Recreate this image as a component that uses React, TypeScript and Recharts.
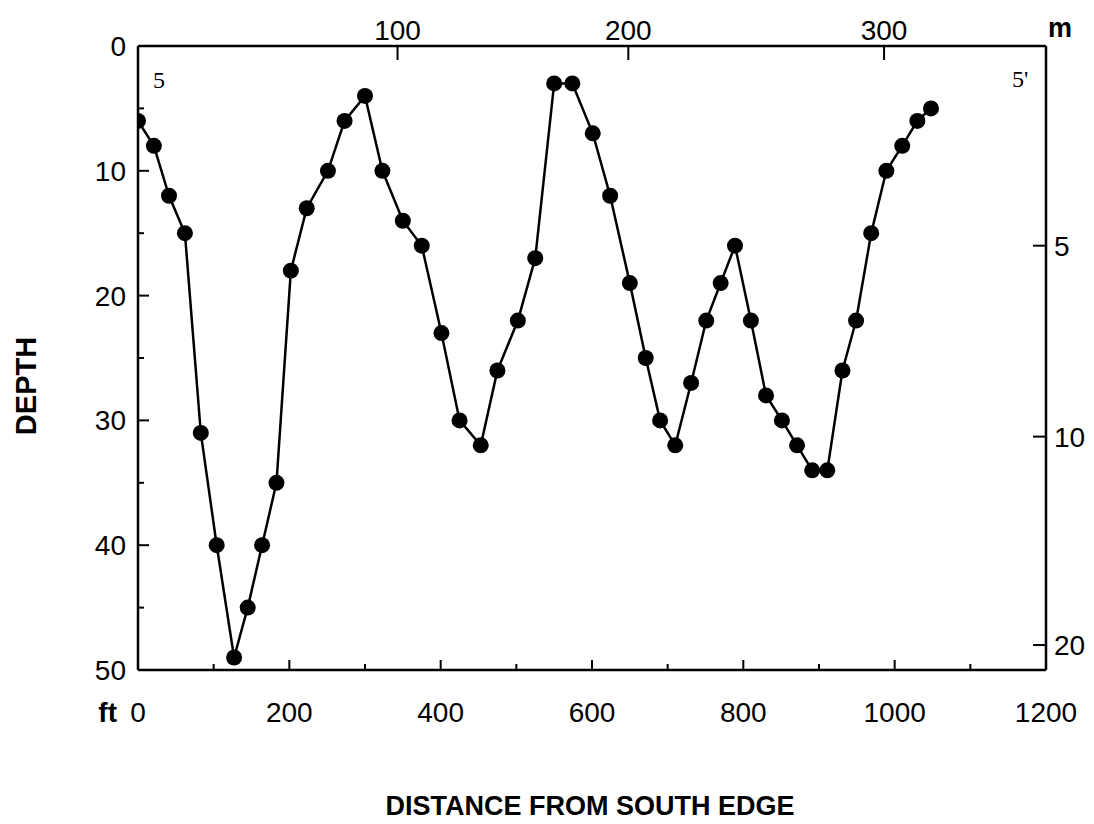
import React from 'react';
import { LineChart, Line, XAxis, YAxis } from 'recharts';

const distanceFt = [0, 21, 41, 62, 83, 104, 127, 145, 164, 183, 202, 223, 251, 273, 300, 323, 350, 375, 401, 425, 453, 475, 502, 525, 550, 574, 601, 624, 650, 671, 690, 710, 731, 751, 770, 789, 810, 830, 851, 871, 891, 911, 931, 949, 969, 989, 1010, 1030, 1048];
const depthFt = [6, 8, 12, 15, 31, 40, 49, 45, 40, 35, 18, 13, 10, 6, 4, 10, 14, 16, 23, 30, 32, 26, 22, 17, 3, 3, 7, 12, 19, 25, 30, 32, 27, 22, 19, 16, 22, 28, 30, 32, 34, 34, 26, 22, 15, 10, 8, 6, 5];

const bottomTicks = [0, 100, 200, 300, 400, 500, 600, 700, 800, 900, 1000, 1100, 1200];
const leftTicks = [0, 5, 10, 15, 20, 25, 30, 35, 40, 45, 50];
const topTicksFt = [343, 648, 986];
const topTickLabels = ['100', '200', '300'];
const rightTicksFt = [16, 31.3, 48];
const rightTickLabels = ['5', '10', '20'];

const data = distanceFt.map((d, i) => ({ ft: d, depth: depthFt[i] }));

const FONT = "'Liberation Sans', Arial, Helvetica, sans-serif";
const SERIF = "'Liberation Serif', 'Times New Roman', serif";
const FS = 28;

const LeftTick = (props: any) => {
  const { x, y, payload } = props;
  const v = payload.value;
  const major = v % 10 === 0;
  return (
    <g>
      <line x1={x} x2={x + (major ? 11 : 6)} y1={y} y2={y} stroke="#000" strokeWidth={2} />
      {major && (
        <text x={x - 12} y={y} dy="0.36em" textAnchor="end" fontSize={FS} fontFamily={FONT} fill="#000">
          {v}
        </text>
      )}
    </g>
  );
};

const BottomTick = (props: any) => {
  const { x, y, payload } = props;
  const v = payload.value;
  const major = v % 200 === 0;
  return (
    <g>
      <line x1={x} x2={x} y1={y} y2={y - (major ? 10 : 6)} stroke="#000" strokeWidth={2} />
      {major && (
        <text x={x} y={y + 52} textAnchor="middle" fontSize={FS} fontFamily={FONT} fill="#000">
          {v}
        </text>
      )}
      {v === 0 && (
        <text x={x - 21} y={y + 52} textAnchor="end" fontSize={FS} fontWeight="bold" fontFamily={FONT} fill="#000">
          ft
        </text>
      )}
    </g>
  );
};

const TopTick = (props: any) => {
  const { x, y, payload } = props;
  const idx = topTicksFt.indexOf(payload.value);
  return (
    <g>
      <line x1={x} x2={x} y1={y} y2={y + 14} stroke="#000" strokeWidth={2} />
      <text x={x} y={y - 6} textAnchor="middle" fontSize={FS} fontFamily={FONT} fill="#000">
        {idx >= 0 ? topTickLabels[idx] : ''}
      </text>
    </g>
  );
};

const RightTick = (props: any) => {
  const { x, y, payload } = props;
  const idx = rightTicksFt.indexOf(payload.value);
  return (
    <g>
      <line x1={x} x2={x - 13} y1={y} y2={y} stroke="#000" strokeWidth={2} />
      <text x={x + 8} y={y} dy="0.36em" textAnchor="start" fontSize={FS} fontFamily={FONT} fill="#000">
        {idx >= 0 ? rightTickLabels[idx] : ''}
      </text>
    </g>
  );
};

export default function App() {
  return (
    <div style={{ width: 1078, height: 808, background: '#fff', overflow: 'visible' }}>
      <LineChart width={1078} height={816} data={data} margin={{ top: 8, right: 10, bottom: 114, left: 70 }}>
        <XAxis
          xAxisId="bottom"
          dataKey="ft"
          type="number"
          domain={[0, 1200]}
          ticks={bottomTicks}
          interval={0}
          orientation="bottom"
          height={40}
          tickSize={0}
          tickMargin={0}
          tickLine={false}
          tick={<BottomTick />}
          axisLine={{ stroke: '#000', strokeWidth: 2.5 }}
          allowDataOverflow
        />
        <XAxis
          xAxisId="top"
          dataKey="ft"
          type="number"
          domain={[0, 1200]}
          ticks={topTicksFt}
          interval={0}
          orientation="top"
          height={30}
          tickSize={0}
          tickMargin={0}
          tickLine={false}
          tick={<TopTick />}
          axisLine={{ stroke: '#000', strokeWidth: 2.5 }}
          allowDataOverflow
        />
        <YAxis
          yAxisId="left"
          type="number"
          domain={[0, 50]}
          reversed
          ticks={leftTicks}
          interval={0}
          orientation="left"
          width={60}
          tickSize={0}
          tickMargin={0}
          tickLine={false}
          tick={<LeftTick />}
          axisLine={{ stroke: '#000', strokeWidth: 2.5 }}
          allowDataOverflow
        />
        <YAxis
          yAxisId="right"
          dataKey="depth"
          type="number"
          domain={[0, 50]}
          reversed
          ticks={rightTicksFt}
          interval={0}
          orientation="right"
          width={30}
          tickSize={0}
          tickMargin={0}
          tickLine={false}
          tick={<RightTick />}
          axisLine={{ stroke: '#000', strokeWidth: 2.5 }}
          allowDataOverflow
        />
        <Line
          xAxisId="bottom"
          yAxisId="left"
          dataKey="depth"
          type="linear"
          stroke="#000"
          strokeWidth={2.5}
          dot={{ r: 8, fill: '#000', stroke: '#000', strokeWidth: 0 }}
          activeDot={false}
          isAnimationActive={false}
        />
        <text x={1040} y={29} fontSize={27} fontWeight="bold" fontFamily={FONT} fill="#000">m</text>
        <text x={145} y={80} fontSize={24} fontFamily={SERIF} fill="#000">5</text>
        <text x={1004} y={79} fontSize={24} fontFamily={SERIF} fill="#000">5'</text>
        <text x={18} y={378} transform="rotate(-90 18 378)" textAnchor="middle" dy="0.36em" fontSize={29} fontWeight="bold" fontFamily={FONT} fill="#000">DEPTH</text>
        <text x={582} y={807} textAnchor="middle" fontSize={27} fontWeight="bold" fontFamily={FONT} fill="#000">DISTANCE FROM SOUTH EDGE</text>
      </LineChart>
    </div>
  );
}
